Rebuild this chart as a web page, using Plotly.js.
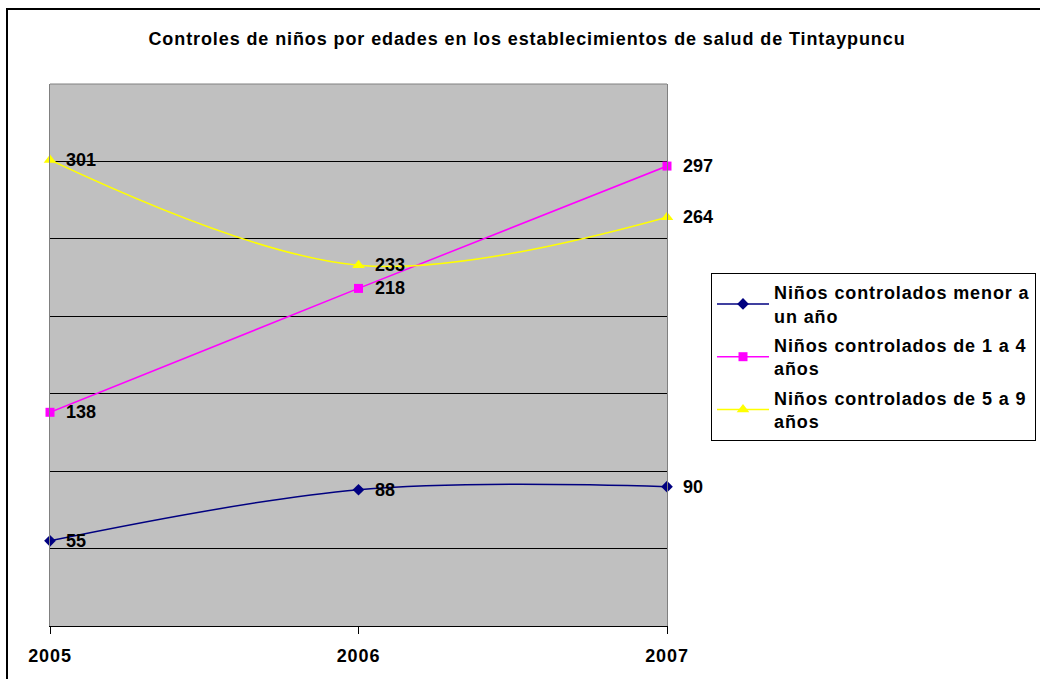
<!DOCTYPE html>
<html>
<head>
<meta charset="utf-8">
<script src="https://cdn.plot.ly/plotly-3.0.1.min.js"></script>
<style>
html,body{margin:0;padding:0;background:#fff;overflow:hidden;}
#chart{width:1040px;height:679px;}
.gtitle, .legendtext, .xtick text { letter-spacing: 0.9px; }
</style>
</head>
<body>
<div id="chart"></div>
<script>
const years = [2005, 2006, 2007];
const menorAnio = [55, 88, 90];
const de1a4 = [138, 218, 297];
const de5a9 = [301, 233, 264];
const seriesNames = [
  "Niños controlados menor a<br>un año",
  "Niños controlados de 1 a 4<br>años",
  "Niños controlados de 5 a 9<br>años"
];
const titleText = "Controles de niños por edades en los establecimientos de salud de Tintaypuncu";

const FONT = "Liberation Sans, Arial, sans-serif";
const W = 1040, H = 679;
const mL = 50, mR = 373, mT = 84, mB = 53;
const pw = W - mL - mR, ph = H - mT - mB;

function mk(y, name, color, symbol, size, grp) {
  return {
    x: years, y: y, name: name, type: 'scatter', mode: 'lines+markers',
    legendgroup: grp,
    line: {color: color, width: 1.5, shape: 'spline', smoothing: 1},
    marker: {color: color, symbol: symbol, size: size, line: {width: 0}},
    cliponaxis: false
  };
}
const traces = [
  mk(menorAnio, seriesNames[0], '#000080', 'diamond', 9, 'g1'),
  mk(de1a4, seriesNames[1], '#FF00FF', 'square', 9, 'g2'),
  mk(de5a9, seriesNames[2], '#FFFF00', 'triangle-up', 11, 'g3')
];

const annotations = [];
[menorAnio, de1a4, de5a9].forEach(arr => {
  arr.forEach((v, i) => {
    annotations.push({
      x: years[i], y: v, xref: 'x', yref: 'y', text: String(v),
      showarrow: false, xanchor: 'left', yanchor: 'middle', xshift: 14,
      font: {family: FONT, size: 18, color: '#000', weight: 'bold'}
    });
  });
});

const layout = {
  width: W, height: H,
  margin: {l: mL, r: mR, t: mT, b: mB, autoexpand: false},
  paper_bgcolor: '#ffffff',
  plot_bgcolor: '#C0C0C0',
  font: {family: FONT, color: '#000'},
  title: {
    text: '<b>' + titleText + '</b>',
    font: {family: FONT, size: 18, color: '#000'},
    x: 527 / W, xanchor: 'center', xref: 'container',
    y: 1 - 39 / H, yanchor: 'middle', yref: 'container'
  },
  xaxis: {
    range: [2005, 2007], tickvals: years, ticktext: years.map(String),
    ticks: 'outside', ticklen: 7, tickcolor: '#000', tickwidth: 1,
    ticklabelstandoff: 6,
    showline: true, linecolor: '#000', linewidth: 1,
    showgrid: false, zeroline: false,
    tickfont: {family: FONT, size: 18, color: '#000', weight: 'bold'},
    fixedrange: true
  },
  yaxis: {
    range: [0, 350], dtick: 50, tick0: 0,
    showticklabels: false, ticks: '',
    showgrid: true, gridcolor: '#000', gridwidth: 1,
    showline: true, linecolor: '#808080', linewidth: 1, mirror: true,
    zeroline: false, fixedrange: true
  },
  legend: {
    x: (711 - mL) / pw, xanchor: 'left',
    y: (H - mB - 273) / ph, yanchor: 'top',
    bgcolor: '#ffffff', bordercolor: '#000', borderwidth: 1,
    font: {family: FONT, size: 18, color: '#000', weight: 'bold'},
    itemwidth: 52,
    tracegroupgap: 3
  },
  showlegend: true,
  annotations: annotations,
  shapes: [
    {type: 'line', xref: 'paper', yref: 'paper', x0: 0, x1: 1, y0: 1, y1: 1,
     line: {color: '#808080', width: 1}},
    {type: 'rect', xref: 'paper', yref: 'paper',
     x0: (7 - mL) / pw, x1: (W + 200 - mL) / pw,
     y0: (H - mB - (H + 200)) / ph, y1: (H - mB - 9) / ph,
     line: {color: '#000', width: 2}, fillcolor: 'rgba(0,0,0,0)'}
  ]
};

Plotly.newPlot('chart', traces, layout, {displayModeBar: false, staticPlot: true});
</script>
</body>
</html>
